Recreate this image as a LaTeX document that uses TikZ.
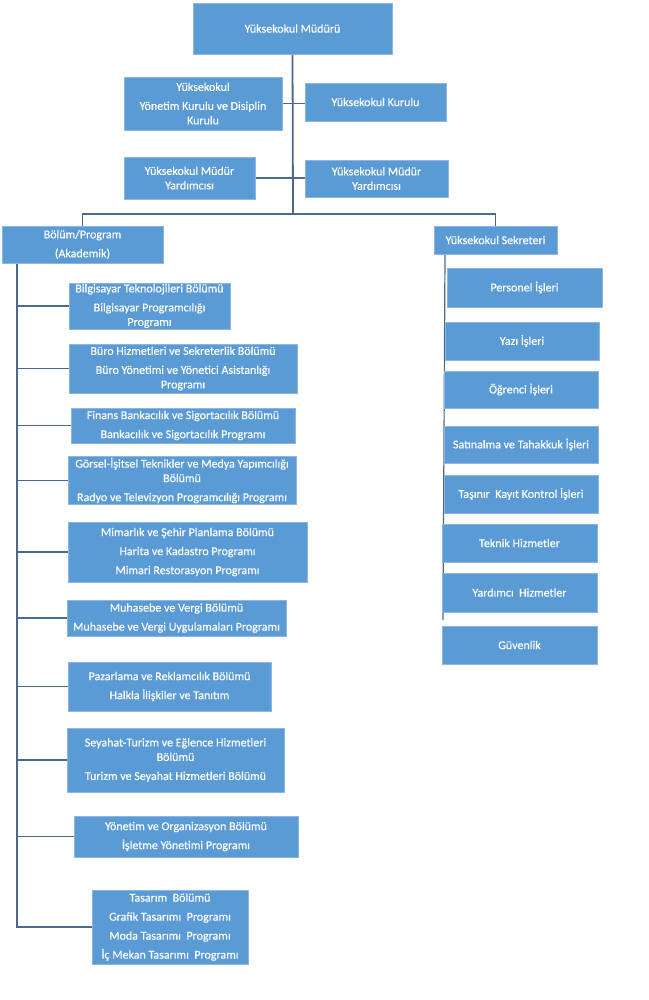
\documentclass[tikz,border=0pt]{standalone}
\usepackage{fontspec}
\setmainfont{Carlito}[FakeBold=0.3]
\usetikzlibrary{backgrounds}
\definecolor{boxfill}{HTML}{5B9BD5}
\definecolor{boxline}{HTML}{8DB6E2}
\definecolor{linkcol}{HTML}{4B6A89}
\tikzset{
  x=1pt, y=-1pt,
  box/.style={rectangle, fill=boxfill, draw=boxline, line width=0.8pt, text=white,
    align=center, inner sep=1pt, font=\fontsize{12}{14.5}\selectfont},
  link/.style={draw=linkcol, line width=1.8pt},
  thinlink/.style={draw=linkcol, line width=1.2pt}
}
\newcommand{\pg}{\\[4.5pt]}
\begin{document}
\begin{tikzpicture}
\useasboundingbox (0,0) rectangle (648,1000);
% top part
\node[box, minimum width=199pt, minimum height=51pt] (top) at (292.5,28.5) {Yüksekokul Müdürü};
\node[box, minimum width=158pt, minimum height=53pt] (yk) at (203,103.5) {Yüksekokul\pg Yönetim Kurulu ve Disiplin\\ Kurulu};
\node[box, minimum width=141pt, minimum height=38pt] (kurul) at (375.5,102) {Yüksekokul Kurulu};
\node[box, minimum width=131pt, minimum height=42pt] (myl) at (189.5,178) {Yüksekokul Müdür\\ Yardımcısı};
\node[box, minimum width=143pt, minimum height=37pt] (myr) at (376.5,178.5) {Yüksekokul Müdür\\ Yardımcısı};
\node[box, minimum width=161pt, minimum height=37pt] (bolum) at (82.5,244.5) {Bölüm/Program\pg (Akademik)};
\node[box, minimum width=123pt, minimum height=28pt] (sek) at (495.5,240) {Yüksekokul Sekreteri};
% academic units
\node[box, minimum width=161pt, minimum height=46pt] (b1) at (149.5,306) {Bilgisayar Teknolojileri Bölümü\pg Bilgisayar Programcılığı\\ Programı};
\node[box, minimum width=228pt, minimum height=49pt] (b2) at (183,368.5) {Büro Hizmetleri ve Sekreterlik Bölümü\pg Büro Yönetimi ve Yönetici Asistanlığı\\ Programı};
\node[box, minimum width=224pt, minimum height=35pt] (b3) at (183,425.5) {Finans Bankacılık ve Sigortacılık Bölümü\pg Bankacılık ve Sigortacılık Programı};
\node[box, minimum width=228pt, minimum height=45pt] (b4) at (182,480.5) {Görsel-İşitsel Teknikler ve Medya Yapımcılığı\\ Bölümü\pg Radyo ve Televizyon Programcılığı Programı};
\node[box, minimum width=239pt, minimum height=60pt] (b5) at (187.5,552) {Mimarlık ve Şehir Planlama Bölümü\pg Harita ve Kadastro Programı\pg Mimari Restorasyon Programı};
\node[box, minimum width=219pt, minimum height=36pt] (b6) at (176.5,618) {Muhasebe ve Vergi Bölümü\pg Muhasebe ve Vergi Uygulamaları Programı};
\node[box, minimum width=203pt, minimum height=49pt] (b7) at (169.5,686.5) {Pazarlama ve Reklamcılık Bölümü\pg Halkla İlişkiler ve Tanıtım};
\node[box, minimum width=217pt, minimum height=64pt] (b8) at (175.5,760) {Seyahat-Turizm ve Eğlence Hizmetleri\\ Bölümü\pg Turizm ve Seyahat Hizmetleri Bölümü};
\node[box, minimum width=224pt, minimum height=41pt] (b9) at (186,836.5) {Yönetim ve Organizasyon Bölümü\pg İşletme Yönetimi Programı};
\node[box, minimum width=156pt, minimum height=74pt] (b10) at (170,927) {Tasarım\ \ Bölümü\pg Grafik Tasarımı\ \ Programı\pg Moda Tasarımı\ \ Programı\pg İç Mekan Tasarımı\ \ Programı};
% administrative units
\node[box, minimum width=155pt, minimum height=39pt] (r1) at (524.5,287.5) {Personel İşleri};
\node[box, minimum width=154pt, minimum height=38pt] (r2) at (522,341) {Yazı İşleri};
\node[box, minimum width=154pt, minimum height=37pt] (r3) at (521,389.5) {Öğrenci İşleri};
\node[box, minimum width=154pt, minimum height=37pt] (r4) at (521,444.5) {Satınalma ve Tahakkuk İşleri};
\node[box, minimum width=154pt, minimum height=38pt] (r5) at (521,494) {Taşınır\ \ Kayıt Kontrol İşleri};
\node[box, minimum width=155pt, minimum height=38pt] (r6) at (519.5,543) {Teknik Hizmetler};
\node[box, minimum width=155pt, minimum height=39pt] (r7) at (519.5,592.5) {Yardımcı\ \ Hizmetler};
\node[box, minimum width=155pt, minimum height=38pt] (r8) at (519.5,645) {Güvenlik};
% connectors
\coordinate (bar) at (293,214);
\coordinate (ltop) at (17,263);
\coordinate (rtop) at (445,254);
\coordinate (rend) at (443,620);
\begin{scope}[on background layer]
\draw[link] (top.south) -- (bar);
\draw[link] (yk.east) -- (yk.east -| kurul.west);
\draw[link] (myl.east) -- (myl.east -| myr.west);
\draw[link] (bolum.north) |- (bar) -| (sek.north);
\draw[link] (ltop) |- (b10.west);
\foreach \b in {b1,b2,b3,b4,b5,b6,b7,b8,b9}
  \draw[link] (\b.west -| ltop) -- (\b.west);
\draw[thinlink] (rtop) -- (rend);
\end{scope}
\end{tikzpicture}
\end{document}
